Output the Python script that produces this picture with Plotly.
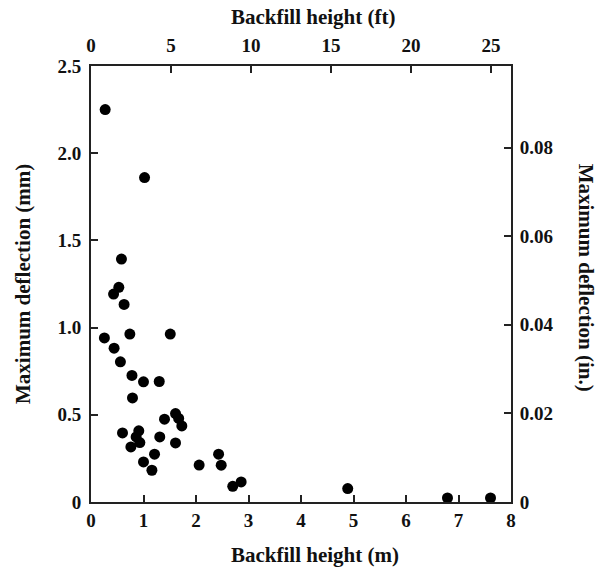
import plotly.graph_objects as go

# Backfill height (m) and maximum deflection (mm)
height_m = [0.27, 1.02, 0.58, 0.53, 0.43, 0.63, 0.255, 0.74, 1.51, 0.44, 0.56, 0.78,
            1.0, 1.30, 0.79, 1.40, 1.61, 1.67, 1.73, 0.60, 0.91, 0.86, 0.93, 0.76,
            1.31, 1.61, 1.21, 1.0, 1.16, 2.06, 2.43, 2.48, 2.70, 2.86, 4.89, 6.79, 7.61]
deflection_mm = [2.25, 1.86, 1.393, 1.231, 1.192, 1.133, 0.941, 0.963, 0.963, 0.882, 0.804, 0.726,
                 0.689, 0.691, 0.597, 0.475, 0.507, 0.479, 0.436, 0.396, 0.408, 0.373, 0.341, 0.316,
                 0.373, 0.339, 0.274, 0.23, 0.182, 0.212, 0.274, 0.211, 0.09, 0.115, 0.077, 0.023, 0.023]

x_ticks_m = [0, 1, 2, 3, 4, 5, 6, 7, 8]
x_ticks_ft = [0, 5, 10, 15, 20, 25]
y_ticks_mm = [0, 0.5, 1.0, 1.5, 2.0, 2.5]
y_ticklabels_mm = ["0", "0.5", "1.0", "1.5", "2.0", "2.5"]
y_ticks_in = [0, 0.02, 0.04, 0.06, 0.08]
y_ticklabels_in = ["0", "0.02", "0.04", "0.06", "0.08"]

M_TO_FT = 1 / 0.3048
MM_TO_IN = 1 / 25.4

FONT = "Liberation Serif"
TICKFONT = dict(family=FONT, size=19, color="#111", weight="bold")
LINEC = "#222"

fig = go.Figure()
fig.add_trace(go.Scatter(
    x=height_m, y=deflection_mm, mode="markers",
    marker=dict(color="black", size=11, line=dict(width=0)),
    showlegend=False))
fig.add_trace(go.Scatter(
    x=[v * M_TO_FT for v in height_m], y=[v * MM_TO_IN for v in deflection_mm],
    xaxis="x2", yaxis="y2", mode="markers", marker=dict(opacity=0),
    hoverinfo="skip", showlegend=False))

common = dict(showline=True, linecolor=LINEC, linewidth=2, ticks="inside",
              ticklen=7, tickwidth=1.5, tickcolor=LINEC, showgrid=False,
              zeroline=False, tickfont=TICKFONT)

fig.update_layout(
    width=599, height=573,
    margin=dict(l=91, r=88, t=66, b=71),
    paper_bgcolor="white", plot_bgcolor="white",
    font=dict(family=FONT, color="#111"),
    xaxis=dict(range=[0, 8], tickvals=x_ticks_m, **common),
    xaxis2=dict(range=[0, 8 * M_TO_FT], tickvals=x_ticks_ft, overlaying="x",
                side="top", ticklabelstandoff=4, **common),
    yaxis=dict(range=[0, 2.5], tickvals=y_ticks_mm, ticktext=y_ticklabels_mm,
               ticklabelstandoff=4, **common),
    yaxis2=dict(range=[0, 2.5 * MM_TO_IN], tickvals=y_ticks_in, ticktext=y_ticklabels_in,
                overlaying="y", side="right", ticklabelstandoff=3, **common),
)

tfont = dict(family=FONT, size=21, color="#111")
annots = [
    dict(text="<b>Backfill height (m)</b>", x=0.533, y=-0.122, textangle=0),
    dict(text="<b>Backfill height (ft)</b>", x=0.529, y=1.112, textangle=0),
    dict(text="<b>Maximum deflection (mm)</b>", x=-0.162, y=0.50, textangle=-90),
    dict(text="<b>Maximum deflection (in.)</b>", x=1.179, y=0.514, textangle=90),
]
for a in annots:
    fig.add_annotation(xref="paper", yref="paper", showarrow=False,
                       xanchor="center", yanchor="middle", font=tfont, **a)

fig.write_html("out.html", config={"displayModeBar": False},
               post_script="document.body.style.margin='0';")
